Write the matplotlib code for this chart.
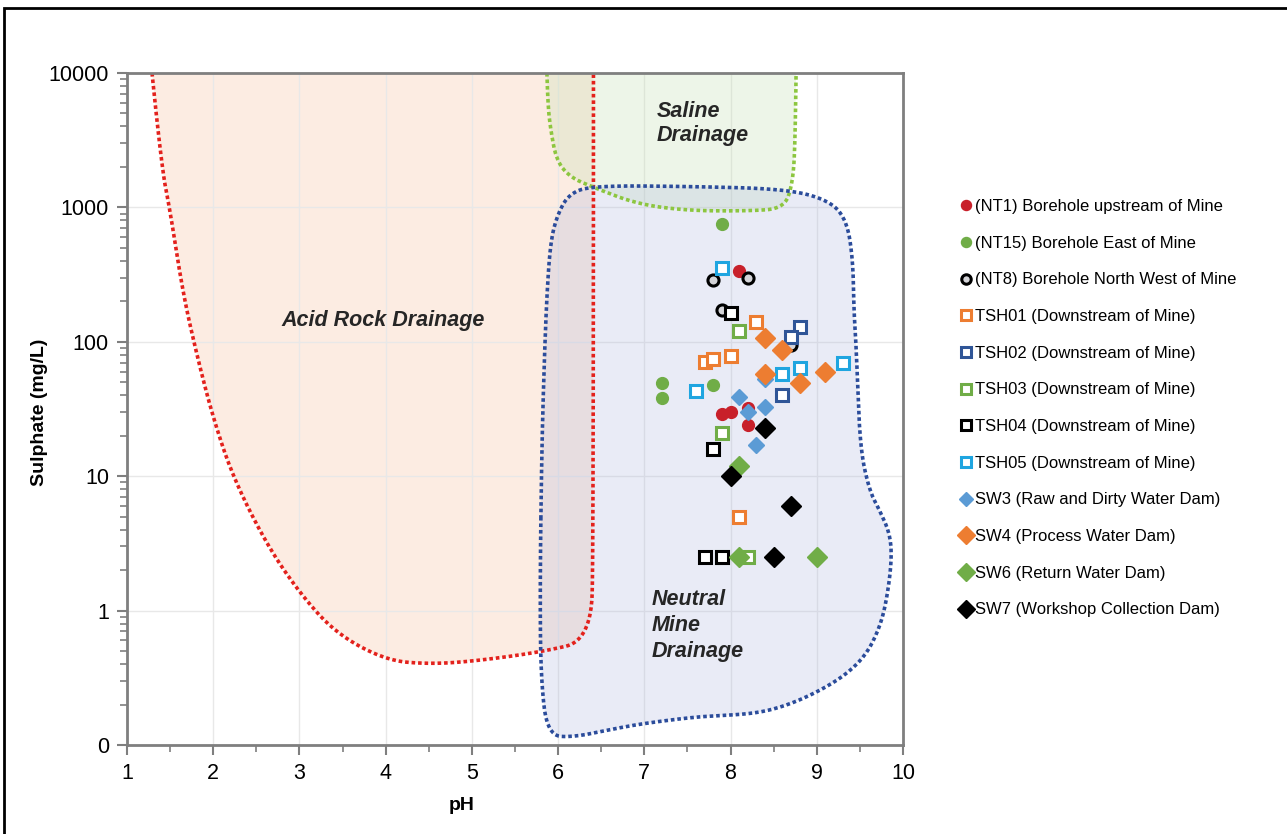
import matplotlib
matplotlib.use("Agg")
import matplotlib.pyplot as plt
from matplotlib.patches import Rectangle
import numpy as np

plt.rcParams['font.family'] = ['Liberation Sans', 'DejaVu Sans']

# sample points: pH and sulphate (mg/L)
nt1_ph = [8.1, 7.9, 8.0, 8.2, 8.2]
nt1_so4 = [335, 29, 30, 32, 24]
nt15_ph = [7.9, 7.2, 7.2, 7.8]
nt15_so4 = [750, 49, 38, 48]
nt8_ph = [7.8, 8.2, 7.9, 8.7]
nt8_so4 = [290, 300, 173, 95]
tsh01_ph = [8.3, 7.7, 7.8, 8.0, 8.1]
tsh01_so4 = [140, 71, 75, 78, 5]
tsh02_ph = [8.8, 8.7, 8.6]
tsh02_so4 = [128, 109, 40]
tsh03_ph = [8.1, 7.9, 7.9, 8.2]
tsh03_so4 = [121, 21, 2.5, 2.5]
tsh04_ph = [8.0, 7.8, 7.7, 7.9]
tsh04_so4 = [163, 16, 2.5, 2.5]
tsh05_ph = [7.9, 9.3, 8.6, 8.8, 7.6]
tsh05_so4 = [356, 70, 58, 64, 43]
sw3_ph = [8.4, 8.1, 8.4, 8.2, 8.3]
sw3_so4 = [53, 39, 33, 30, 17]
sw4_ph = [8.4, 8.6, 8.4, 9.1, 8.8]
sw4_so4 = [107, 87, 58, 60, 49]
sw6_ph = [8.1, 8.1, 9.0]
sw6_so4 = [12, 2.5, 2.5]
sw7_ph = [8.4, 8.0, 8.7, 8.5]
sw7_so4 = [23, 10, 6, 2.5]

# drainage field outlines (pH, sulphate)
acid_ph = [1.29, 1.40, 1.50, 1.65, 1.82, 2.0, 2.23, 2.62, 3.01, 3.43, 4.01, 4.51, 5.02, 5.79,
           6.38, 6.41, 6.41]
acid_so4 = [10000, 2000, 946, 227, 75, 27, 9.8, 3.1, 1.33, 0.67, 0.425, 0.40, 0.42, 0.49,
            0.6, 3.0, 10000]
saline_ph = [5.87, 5.88, 5.91, 5.98, 6.14, 6.41, 6.91, 7.49, 8.2, 8.62, 8.72, 8.75, 8.76]
saline_so4 = [10000, 6000, 3900, 2230, 1675, 1410, 1062, 946, 940, 980, 1500, 3000, 10000]
neutral_ph = [5.81, 5.84, 5.87, 5.91, 5.98, 6.12, 6.40, 7.49, 8.65, 9.15, 9.35, 9.42, 9.43,
              9.46, 9.50, 9.61, 9.73, 9.85, 9.87, 9.81, 9.73, 9.58, 9.35, 9.04, 8.65, 8.26,
              7.68, 7.10, 6.72, 6.18, 5.88, 5.80, 5.79]
neutral_so4 = [15.5, 74, 227, 535, 845, 1260, 1450, 1435, 1372, 1125, 797, 402, 171,
               86, 16.4, 7.8, 5.55, 3.72, 2.36, 1.19, 0.75, 0.476, 0.338, 0.254, 0.196, 0.170,
               0.164, 0.148, 0.135, 0.114, 0.118, 0.3, 1.5]

ytick_vals = [0.1, 1, 10, 100, 1000, 10000]
ytick_text = ['0', '1', '10', '100', '1000', '10000']


def smooth(xs, ys, closed=False, n=25):
    # quadratic b-spline in (pH, log10) space
    p = np.column_stack([xs, np.log10(ys)])
    segs = []
    if closed:
        m = (p + np.roll(p, -1, axis=0)) / 2
        for i in range(len(p)):
            segs.append((m[i - 1], p[i], m[i]))
    else:
        m = (p[:-1] + p[1:]) / 2
        k = len(p)
        for i in range(1, k - 1):
            a = p[0] if i == 1 else m[i - 1]
            b = p[-1] if i == k - 2 else m[i]
            segs.append((a, p[i], b))
    t = np.linspace(0, 1, n)[:, None]
    pts = np.vstack([(1 - t) ** 2 * a + 2 * (1 - t) * t * c + t ** 2 * b for a, c, b in segs])
    return pts[:, 0], 10 ** pts[:, 1]


fig = plt.figure(figsize=(12.87, 8.34), dpi=100)
ax = fig.add_axes([127 / 1287, 1 - 745 / 834, 776 / 1287, 672 / 834])
ax.set_yscale('log')
ax.set_xlim(1, 10)
ax.set_ylim(0.1, 10000)

dot = (0, (1, 0.8))
ax_x, ax_y = smooth(acid_ph, acid_so4)
ax.fill(ax_x, ax_y, color='#F8CBAD', alpha=0.35, lw=0, zorder=0.5)
ax.plot(ax_x, ax_y, color='#E3211C', lw=2.6, ls=dot, zorder=2)

sx, sy = smooth(saline_ph, saline_so4)
ax.fill(sx, sy, color='#C5E0B4', alpha=0.3, lw=0, zorder=0.6)
ax.plot(sx, sy, color='#8CC63F', lw=2.6, ls=dot, zorder=2)

nx, ny = smooth(neutral_ph, neutral_so4, closed=True)
ax.fill(nx, ny, color='#A9B3DE', alpha=0.25, lw=0, zorder=0.7)
ax.plot(np.append(nx, nx[0]), np.append(ny, ny[0]), color='#2B4C9B', lw=2.6, ls=dot, zorder=2)

ax.text(3.97, 144, 'Acid Rock Drainage', fontsize=15.5, fontweight='bold', style='italic',
        color='#262626', ha='center', va='center', zorder=3)
ax.text(7.14, 4200, 'Saline\nDrainage', fontsize=15.5, fontweight='bold', style='italic',
        color='#262626', ha='left', va='center', linespacing=1.2, zorder=3)
ax.text(7.09, 0.773, 'Neutral\nMine\nDrainage', fontsize=15.5, fontweight='bold', style='italic',
        color='#262626', ha='left', va='center', linespacing=1.3, zorder=3)

series = [
    (nt1_ph, nt1_so4, '(NT1) Borehole upstream of Mine', dict(marker='o', ms=8.5, mfc='#C8202A', mec='#C8202A')),
    (nt15_ph, nt15_so4, '(NT15) Borehole East of Mine', dict(marker='o', ms=8.5, mfc='#70AD47', mec='#70AD47')),
    (nt8_ph, nt8_so4, '(NT8) Borehole North West of Mine', dict(marker='o', ms=8, mfc='#D4D4D8', mec='black', mew=2.2)),
    (tsh01_ph, tsh01_so4, 'TSH01 (Downstream of Mine)', dict(marker='s', ms=8, mfc='white', mec='#ED7D31', mew=2.2)),
    (tsh02_ph, tsh02_so4, 'TSH02 (Downstream of Mine)', dict(marker='s', ms=8, mfc='white', mec='#2F5597', mew=2.2)),
    (tsh03_ph, tsh03_so4, 'TSH03 (Downstream of Mine)', dict(marker='s', ms=8, mfc='white', mec='#70AD47', mew=2.2)),
    (tsh04_ph, tsh04_so4, 'TSH04 (Downstream of Mine)', dict(marker='s', ms=8, mfc='white', mec='black', mew=2.2)),
    (tsh05_ph, tsh05_so4, 'TSH05 (Downstream of Mine)', dict(marker='s', ms=8, mfc='white', mec='#1FA5E0', mew=2.2)),
    (sw3_ph, sw3_so4, 'SW3 (Raw and Dirty Water Dam)', dict(marker='D', ms=8, mfc='#5B9BD5', mec='#5B9BD5')),
    (sw4_ph, sw4_so4, 'SW4 (Process Water Dam)', dict(marker='D', ms=10.5, mfc='#ED7D31', mec='#ED7D31')),
    (sw6_ph, sw6_so4, 'SW6 (Return Water Dam)', dict(marker='D', ms=10.5, mfc='#70AD47', mec='#70AD47')),
    (sw7_ph, sw7_so4, 'SW7 (Workshop Collection Dam)', dict(marker='D', ms=10.5, mfc='black', mec='black')),
]
for xs, ys, lab, kw in series:
    ax.plot(xs, ys, ls='none', label=lab, zorder=4, **kw)

# axes styling
ax.set_xticks(range(1, 11))
ax.set_xticks(np.arange(1.5, 10, 1), minor=True)
ax.set_yticks(ytick_vals)
ax.set_yticklabels(ytick_text)
ax.tick_params(axis='both', which='major', labelsize=15.5, color='#7F7F7F', width=1.5, length=7,
               direction='out', pad=6)
ax.tick_params(axis='both', which='minor', color='#7F7F7F', width=1.2, length=5, direction='out')
ax.tick_params(axis='y', which='minor', labelleft=False)
for s in ax.spines.values():
    s.set_color('#7F7F7F')
    s.set_linewidth(2)
ax.grid(True, which='major', color='#E8E8E8', lw=1, zorder=1)
ax.set_axisbelow(True)

fig.text(40 / 1287, 1 - 412 / 834, 'Sulphate (mg/L)', rotation=90, fontsize=14,
         fontweight='bold', ha='center', va='center')
fig.text(462 / 1287, 1 - 805 / 834, 'pH', fontsize=14, fontweight='bold', ha='center', va='center')

leg = ax.legend(loc='upper left', bbox_to_anchor=(960 / 1287, 1 - 199 / 834),
                bbox_transform=fig.transFigure, frameon=False, fontsize=12,
                markerscale=0.85, handlelength=0.7, handletextpad=0.2, labelspacing=1.3,
                borderaxespad=0, borderpad=0)

fig.add_artist(Rectangle((4 / 1287, -0.02), 1.1, 1 - 8 / 834 + 0.02, transform=fig.transFigure,
                         fill=False, ec='black', lw=2, clip_on=False))

fig.savefig('out.png', dpi=100)
